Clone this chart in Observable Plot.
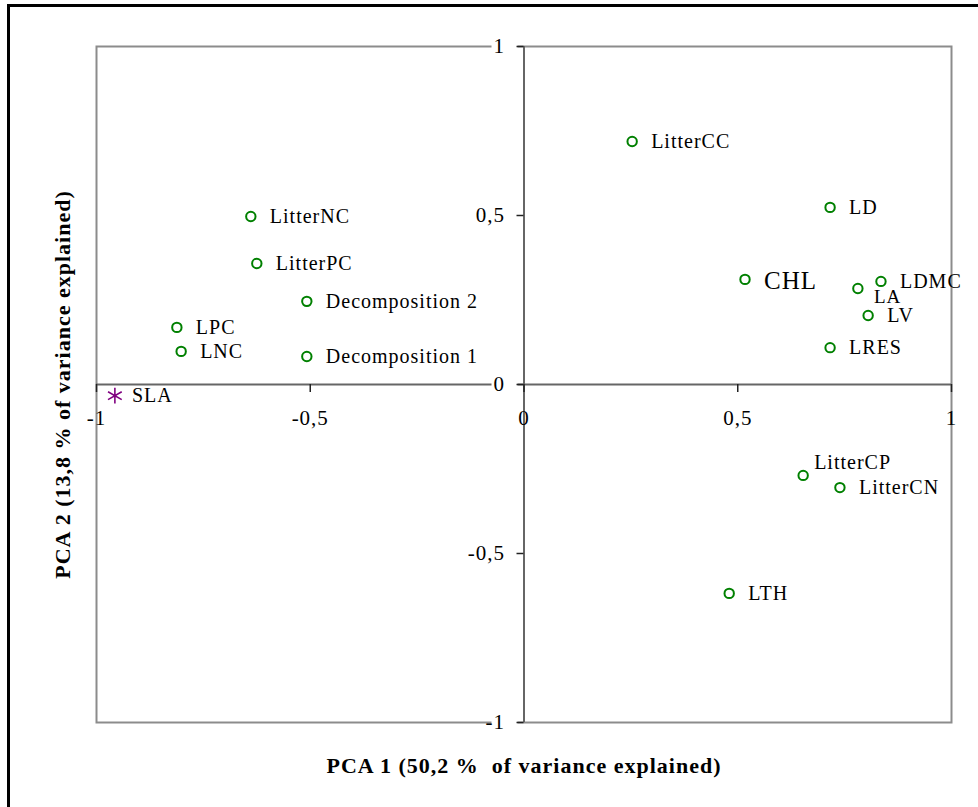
<!DOCTYPE html>
<html>
<head>
<meta charset="utf-8">
<script src="https://cdn.jsdelivr.net/npm/d3@7"></script>
<script src="https://cdn.jsdelivr.net/npm/@observablehq/plot@0.6"></script>
<style>
  body { margin: 0; background: #fff; }
  #wrap { position: relative; width: 978px; height: 807px; overflow: hidden; }
  #wrap svg { display: block; }
  #wrap svg text { letter-spacing: 1px; }
  #border { position: absolute; left: 7px; top: 4px; width: 1200px; height: 1000px;
            border-left: 3px solid #000; border-top: 3px solid #000; pointer-events: none; }
</style>
</head>
<body>
<div id="wrap"><div id="border"></div></div>
<script>
// Loadings of the traits on the first two principal components
const variables = ["LitterCC", "LD", "CHL", "LDMC", "LA", "LV", "LRES", "LitterCP", "LitterCN", "LTH",
                   "LitterNC", "LitterPC", "Decomposition 2", "LPC", "LNC", "Decomposition 1"];
const pc1 = [0.253, 0.716, 0.517, 0.835, 0.781, 0.805, 0.716, 0.653, 0.739, 0.480,
             -0.639, -0.625, -0.508, -0.812, -0.802, -0.508];
const pc2 = [0.719, 0.524, 0.311, 0.305, 0.284, 0.204, 0.109, -0.269, -0.305, -0.618,
             0.497, 0.358, 0.246, 0.169, 0.098, 0.083];

// Specific leaf area, drawn with its own marker
const starVariables = ["SLA"];
const starPc1 = [-0.957];
const starPc2 = [-0.033];

const xTicks = [-1, -0.5, 0, 0.5, 1];
const xTickLabels = ["-1", "-0,5", "0", "0,5", "1"];
const yTicks = [-1, -0.5, 0, 0.5, 1];
const yTickLabels = ["-1", "-0,5", "0", "0,5", "1"];

const xTitle = "PCA 1 (50,2 %\u00a0 of variance explained)";
const yTitle = "PCA 2 (13,8 % of variance explained)";

const points = variables.map((name, i) => ({name, pc1: pc1[i], pc2: pc2[i]}));
const stars = starVariables.map((name, i) => ({name, pc1: starPc1[i], pc2: starPc2[i]}));

const serif = "'Liberation Serif', 'Times New Roman', serif";
const green = "#008000";
const purple = "#800080";

// labels that sit beside their point; a few are nudged to avoid neighbours
const nudged = ["CHL", "LA", "LitterCP"];
const regular = points.filter(d => !nudged.includes(d.name));
const only = name => points.filter(d => d.name === name);

const chart = Plot.plot({
  width: 978,
  height: 807,
  marginLeft: 96,
  marginRight: 27,
  marginTop: 46,
  marginBottom: 85,
  style: {fontFamily: serif, background: "transparent", color: "#000"},
  x: {domain: [-1, 1], axis: null},
  y: {domain: [-1, 1], axis: null},
  marks: [
    Plot.frame({stroke: "#8c8c8c", strokeWidth: 2}),
    // axes through the origin
    Plot.ruleY([0], {stroke: "#666", strokeWidth: 2}),
    // blank boxes behind the vertical-axis labels
    Plot.ruleY(yTicks, {y: d => d, x1: 0, x2: 0, insetLeft: -32, insetRight: 6, stroke: "#fff", strokeWidth: 22}),
    Plot.ruleX(xTicks.filter(d => d === 0), {x: d => d, y1: 0, y2: 0, insetTop: 10, insetBottom: -44, stroke: "#fff", strokeWidth: 16}),
    Plot.ruleX([0], {stroke: "#666", strokeWidth: 2}),
    // tick marks
    Plot.ruleX(xTicks, {x: d => d, y1: 0, y2: 0, insetTop: 0, insetBottom: -8, stroke: "#222", strokeWidth: 1.5}),
    Plot.ruleY(yTicks, {y: d => d, x1: 0, x2: 0, insetLeft: -7, insetRight: 0, stroke: "#222", strokeWidth: 1.5}),
    // tick labels
    Plot.text(xTicks, {x: d => d, y: 0, text: (d, i) => xTickLabels[i], dy: 34, fontSize: 21, fill: "#000"}),
    Plot.text(yTicks, {x: 0, y: d => d, text: (d, i) => yTickLabels[i], dx: -19, textAnchor: "end", fontSize: 21, fill: "#000"}),
    // loadings
    Plot.dot(points, {x: "pc1", y: "pc2", r: 4.7, stroke: green, strokeWidth: 2, fill: "#fff"}),
    Plot.dot(stars, {x: "pc1", y: "pc2", symbol: "asterisk", r: 7.5, stroke: purple, strokeWidth: 1.6}),
    Plot.text(regular, {x: "pc1", y: "pc2", text: "name", dx: 19, textAnchor: "start", fontSize: 20, fill: "#000"}),
    Plot.text(only("CHL"), {x: "pc1", y: "pc2", text: "name", dx: 19, dy: 2, textAnchor: "start", fontSize: 25, fill: "#000"}),
    Plot.text(only("LA"), {x: "pc1", y: "pc2", text: "name", dx: 16, dy: 8, textAnchor: "start", fontSize: 19, fill: "#000"}),
    Plot.text(only("LitterCP"), {x: "pc1", y: "pc2", text: "name", dx: 11, dy: -13, textAnchor: "start", fontSize: 20, fill: "#000"}),
    Plot.text(stars, {x: "pc1", y: "pc2", text: "name", dx: 17, textAnchor: "start", fontSize: 20, fill: "#000"}),
    // axis titles
    Plot.text([xTitle], {frameAnchor: "bottom", textAnchor: "middle", dy: 50, text: d => d, fontSize: 22, fontWeight: "bold", fill: "#000"}),
    Plot.text([yTitle], {frameAnchor: "left", textAnchor: "middle", dx: -34, rotate: -90, text: d => d, fontSize: 22, fontWeight: "bold", fill: "#000"})
  ]
});

document.getElementById("wrap").prepend(chart);
</script>
</body>
</html>
